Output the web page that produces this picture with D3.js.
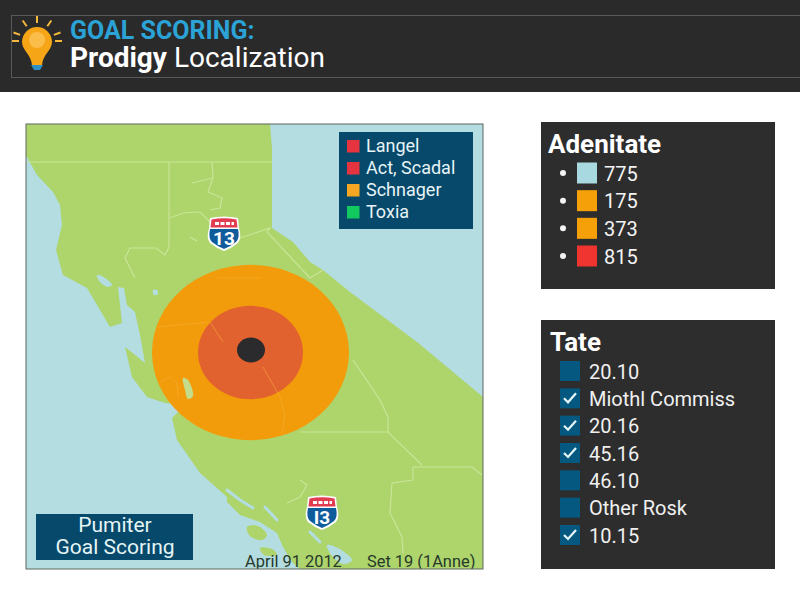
<!DOCTYPE html>
<html>
<head>
<meta charset="utf-8">
<script src="https://cdn.jsdelivr.net/npm/d3@7"></script>
<style>
  html, body { margin: 0; padding: 0; background: #fff; }
  svg { display: block; }
  text { font-family: Roboto, "Noto Sans", sans-serif; }
</style>
</head>
<body>
<svg id="chart" width="800" height="600"></svg>
<script>
// Chart data, everything on the map is in map units (0-457 across, 0-445 down)
const mapLegendNames = ["Langel", "Act, Scadal", "Schnager", "Toxia"];
const mapLegendColors = ["#e5343f", "#e5343f", "#f5a623", "#12c95f"];

const adenitateValues = ["775", "175", "373", "815"];
const adenitateColors = ["#a8d8e0", "#f5a008", "#f5a008", "#f03530"];

const tateLabels = ["20.10", "Miothl Commiss", "20.16", "45.16", "46.10", "Other Rosk", "10.15"];
const tateChecked = [false, true, true, true, false, false, true];

const ringRadii = [98.5, 52.5, 14];
const ringColors = ["#f39c0b", "#e2622f", "#2b2b2d"];
const ringCentres = [[224.5, 228.5], [224.5, 228.5], [225, 226]];

const shieldLabels = ["13", "I3"];
const shieldSpots = [[198, 110], [296, 389]];

const landMain = [[0,0],[244,0],[246,24],[246,104],[267,118],[284,138],[297,146],[324,168],[391,218],[457,273],
  [457,445],[274,445],[266,438],[257,423],[251,409],[234,398],[214,391],[201,378],[201,373],[174,349],[151,316],
  [146,294],[159,281],[139,279],[121,273],[106,253],[99,223],[119,239],[114,211],[109,188],[101,181],[98,164],
  [92,163],[94,181],[96,199],[84,203],[61,164],[37,151],[30,126],[36,101],[34,81],[27,68],[11,51],[1,33],[0,33]];
const islands = [
  [[221,403],[232,402],[241,411],[236,416],[224,412]],
  [[234,424],[246,425],[251,431],[238,431]]
];
const lakes = [
  [[71,151],[79,154],[86,161],[82,163],[74,158]],
  [[127,166],[131,166],[132,170],[128,171]],
  [[301,421],[312,424],[326,436],[318,440],[306,432]]
];
const inlets = [
  [[201,366],[214,376],[227,384]],
  [[239,383],[251,396]],
  [[284,408],[294,418]]
];
const ringLake = [[157,254],[162,256],[167,272],[162,275],[159,266]];

const borders = [
  [[0,38],[246,38]],
  [[143,38],[143,123],[139,131],[130,124],[104,124],[99,134],[109,154]],
  [[144,94],[157,89],[174,88],[184,98]],
  [[186,38],[187,54],[166,59]],
  [[187,54],[182,68],[196,74],[194,84],[184,86]],
  [[214,114],[244,104],[241,108],[284,154],[297,146]],
  [[164,113],[171,117]],
  [[327,236],[354,276],[362,293],[362,308]],
  [[274,308],[362,308],[396,341]],
  [[387,343],[446,343],[456,351]],
  [[387,343],[387,356],[366,359],[364,389],[376,413],[377,429]],
  [[274,356],[281,361],[274,373],[261,379]]
];
const ringBorders = [
  [[131,203],[184,198],[197,218]],
  [[134,258],[144,253],[151,259],[152,273]],
  [[191,154],[234,154]],
  [[237,243],[254,273],[259,291],[256,309]]
];

const svg = d3.select("#chart");

drawHeader();
drawMap();
drawAdenitate();
drawTate();

// Dark band on top with the bulb and the two title lines
function drawHeader() {
  const g = svg.append("g");
  g.append("rect").attr("width", 800).attr("height", 92).attr("fill", "#2a2a2b");
  g.append("rect").attr("x", 11.5).attr("y", 15.5).attr("width", 800).attr("height", 62)
    .attr("fill", "none").attr("stroke", "#595959");

  // light bulb rays
  const rays = [-90, -125, -55, -160, -20, 180, 0];
  const bulb = g.append("g").attr("transform", "translate(37,41)");
  bulb.selectAll("line").data(rays).join("line")
    .attr("x1", d => 18 * Math.cos(d * Math.PI / 180))
    .attr("y1", d => 18 * Math.sin(d * Math.PI / 180))
    .attr("x2", d => 25 * Math.cos(d * Math.PI / 180))
    .attr("y2", d => 25 * Math.sin(d * Math.PI / 180))
    .attr("stroke", "#f5b93c").attr("stroke-width", 2);
  bulb.append("path")
    .attr("d", "M-15,1 A15,15 0 1 1 15,1 C15,9 6,13 5,24 L-5,24 C-6,13 -15,9 -15,1 Z")
    .attr("fill", "#f5a516");
  bulb.append("circle").attr("cy", -1).attr("r", 8).attr("fill", "#fbbd4a");
  bulb.append("path").attr("d", "M-6,24 L6,24 L3,29 L-3,29 Z").attr("fill", "#2e8fc4");

  g.append("text").attr("x", 70).attr("y", 39)
    .attr("font-size", 25).attr("font-weight", 700).attr("fill", "#2ba3d6")
    .text("GOAL SCORING:");
  const line2 = g.append("text").attr("x", 70).attr("y", 67)
    .attr("font-size", 28).attr("fill", "#fff");
  line2.append("tspan").attr("font-weight", 700).text("Prodigy");
  line2.append("tspan").text(" Localization");
}

// The map panel: sea, land, borders, rings, shields and the labels on top
function drawMap() {
  const left = 26, top = 124, width = 457, height = 445;
  const x = d3.scaleLinear().domain([0, 457]).range([left, left + width]);
  const y = d3.scaleLinear().domain([0, 445]).range([top, top + height]);
  const outline = d3.line().x(d => x(d[0])).y(d => y(d[1]));
  const smooth = d3.line().x(d => x(d[0])).y(d => y(d[1])).curve(d3.curveCatmullRomClosed);

  svg.append("defs").append("clipPath").attr("id", "mapClip")
    .append("rect").attr("x", left).attr("y", top).attr("width", width).attr("height", height);

  const g = svg.append("g").attr("clip-path", "url(#mapClip)");
  g.append("rect").attr("x", left).attr("y", top).attr("width", width).attr("height", height)
    .attr("fill", "#b3dde0");

  g.append("path").attr("d", outline(landMain) + "Z").attr("fill", "#aed46c");
  g.selectAll(".island").data(islands).join("path").attr("class", "island")
    .attr("d", smooth).attr("fill", "#aed46c");
  g.selectAll(".lake").data(lakes).join("path").attr("class", "lake")
    .attr("d", smooth).attr("fill", "#b3dde0");
  g.selectAll(".inlet").data(inlets).join("path").attr("class", "inlet")
    .attr("d", outline).attr("fill", "none").attr("stroke", "#b3dde0")
    .attr("stroke-width", 3).attr("stroke-linecap", "round");
  g.selectAll(".border").data(borders).join("path").attr("class", "border")
    .attr("d", outline).attr("fill", "none").attr("stroke", "#c9e597").attr("stroke-width", 1.2);

  // The rings are squashed a little, as on the reference
  const squash = 0.89;
  g.selectAll(".ring").data(ringRadii).join("ellipse").attr("class", "ring")
    .attr("cx", (d, i) => x(ringCentres[i][0]))
    .attr("cy", (d, i) => y(ringCentres[i][1]))
    .attr("rx", d => x(d) - x(0))
    .attr("ry", d => (y(d) - y(0)) * squash)
    .attr("fill", (d, i) => ringColors[i]);
  g.selectAll(".ringBorder").data(ringBorders).join("path").attr("class", "ringBorder")
    .attr("d", outline).attr("fill", "none").attr("stroke", "#f6ae3a")
    .attr("stroke-width", 1).attr("stroke-opacity", 0.55);
  g.append("path").attr("d", smooth(ringLake)).attr("fill", "#c5dc8a");

  shieldLabels.forEach((label, i) => addShield(g, x(shieldSpots[i][0]), y(shieldSpots[i][1]), label));

  // Legend on the map
  const legend = g.append("g");
  legend.append("rect").attr("x", 339).attr("y", 132).attr("width", 134).attr("height", 97).attr("fill", "#06496b");
  const row = d3.scalePoint().domain(d3.range(mapLegendNames.length)).range([146, 212]);
  legend.selectAll("rect.swatch").data(mapLegendNames).join("rect").attr("class", "swatch")
    .attr("x", 347).attr("y", (d, i) => row(i) - 6).attr("width", 12.5).attr("height", 12.5)
    .attr("fill", (d, i) => mapLegendColors[i]);
  legend.selectAll("text").data(mapLegendNames).join("text")
    .attr("x", 366).attr("y", (d, i) => row(i) + 6)
    .attr("font-size", 18).attr("fill", "#e8f4f6").text(d => d);

  // Caption box, bottom left
  g.append("rect").attr("x", 36).attr("y", 514).attr("width", 157).attr("height", 46).attr("fill", "#06496b");
  g.selectAll(".caption").data(["Pumiter", "Goal Scoring"]).join("text").attr("class", "caption")
    .attr("x", 115).attr("y", (d, i) => 532 + i * 22)
    .attr("text-anchor", "middle").attr("font-size", 21).attr("fill", "#e5f5f5").text(d => d);

  g.selectAll(".stamp").data([["April 91 2012", 245], ["Set 19 (1Anne)", 367]]).join("text").attr("class", "stamp")
    .attr("x", d => d[1]).attr("y", 566.5)
    .attr("font-size", 16.4).attr("fill", "#26392a").text(d => d[0]);

  svg.append("rect").attr("x", left).attr("y", top).attr("width", width).attr("height", height)
    .attr("fill", "none").attr("stroke", "#5c6660").attr("stroke-width", 1);
}

// Interstate style shield, the red cap and blue body
function addShield(g, cx, cy, label) {
  const s = g.append("g").attr("transform", `translate(${cx},${cy})`);
  s.append("path").attr("d", "M-14,-16 Q0,-19 14,-16 L15,-6 Q18,4 14,9 Q8,14 0,17 Q-8,14 -14,9 Q-18,4 -15,-6 Z")
    .attr("fill", "#fff");
  s.append("path").attr("d", "M-14,-5 L14,-5 Q16,4 12,8 Q7,12 0,15 Q-7,12 -12,8 Q-16,4 -14,-5 Z")
    .attr("fill", "#0f5c9c");
  s.append("path").attr("d", "M-12.5,-14.5 Q0,-17 12.5,-14.5 L13.5,-6.5 L-13.5,-6.5 Z").attr("fill", "#e23c50");
  s.append("line").attr("x1", -9).attr("x2", 10).attr("y1", -10.5).attr("y2", -10.5)
    .attr("stroke", "#fff").attr("stroke-width", 3).attr("stroke-dasharray", "4 1.5");
  s.append("text").attr("y", 10.5).attr("text-anchor", "middle")
    .attr("font-size", 19).attr("font-weight", 700).attr("fill", "#fff").text(label);
}

// Panel with the bullets and colour swatches
function drawAdenitate() {
  const g = svg.append("g");
  g.append("rect").attr("x", 541).attr("y", 122).attr("width", 234).attr("height", 167).attr("fill", "#2d2d2d");
  g.append("text").attr("x", 548).attr("y", 153).attr("font-size", 26).attr("font-weight", 700)
    .attr("fill", "#fff").text("Adenitate");

  const row = d3.scalePoint().domain(d3.range(adenitateValues.length)).range([173, 256]);
  g.selectAll("circle").data(adenitateValues).join("circle")
    .attr("cx", 563).attr("cy", (d, i) => row(i)).attr("r", 3).attr("fill", "#f4f4f4");
  g.selectAll(".swatch").data(adenitateValues).join("rect").attr("class", "swatch")
    .attr("x", 577).attr("y", (d, i) => row(i) - 10.5).attr("width", 20).attr("height", 21)
    .attr("fill", (d, i) => adenitateColors[i]);
  g.selectAll(".value").data(adenitateValues).join("text").attr("class", "value")
    .attr("x", 604).attr("y", (d, i) => row(i) + 7.5)
    .attr("font-size", 20).attr("fill", "#f4f4f4").text(d => d);
}

// Panel with the check boxes
function drawTate() {
  const g = svg.append("g");
  g.append("rect").attr("x", 541).attr("y", 320).attr("width", 234).attr("height", 249).attr("fill", "#2d2d2d");
  g.append("text").attr("x", 550).attr("y", 351).attr("font-size", 26).attr("font-weight", 700)
    .attr("fill", "#fff").text("Tate");

  const row = d3.scalePoint().domain(d3.range(tateLabels.length)).range([371, 535]);
  g.selectAll(".box").data(tateLabels).join("rect").attr("class", "box")
    .attr("x", 560).attr("y", (d, i) => row(i) - 10).attr("width", 20).attr("height", 20)
    .attr("fill", "#05587f");
  g.selectAll(".tick").data(tateLabels.filter((d, i) => tateChecked[i])).join("path").attr("class", "tick")
    .attr("transform", d => `translate(570,${row(tateLabels.indexOf(d))})`)
    .attr("d", "M-6,0 L-2,4 L6,-5")
    .attr("fill", "none").attr("stroke", "#e4f6f8").attr("stroke-width", 2.2);
  g.selectAll(".label").data(tateLabels).join("text").attr("class", "label")
    .attr("x", 589).attr("y", (d, i) => row(i) + 7.5)
    .attr("font-size", 20).attr("fill", "#f0f0f0").text(d => d);
}
</script>
</body>
</html>
